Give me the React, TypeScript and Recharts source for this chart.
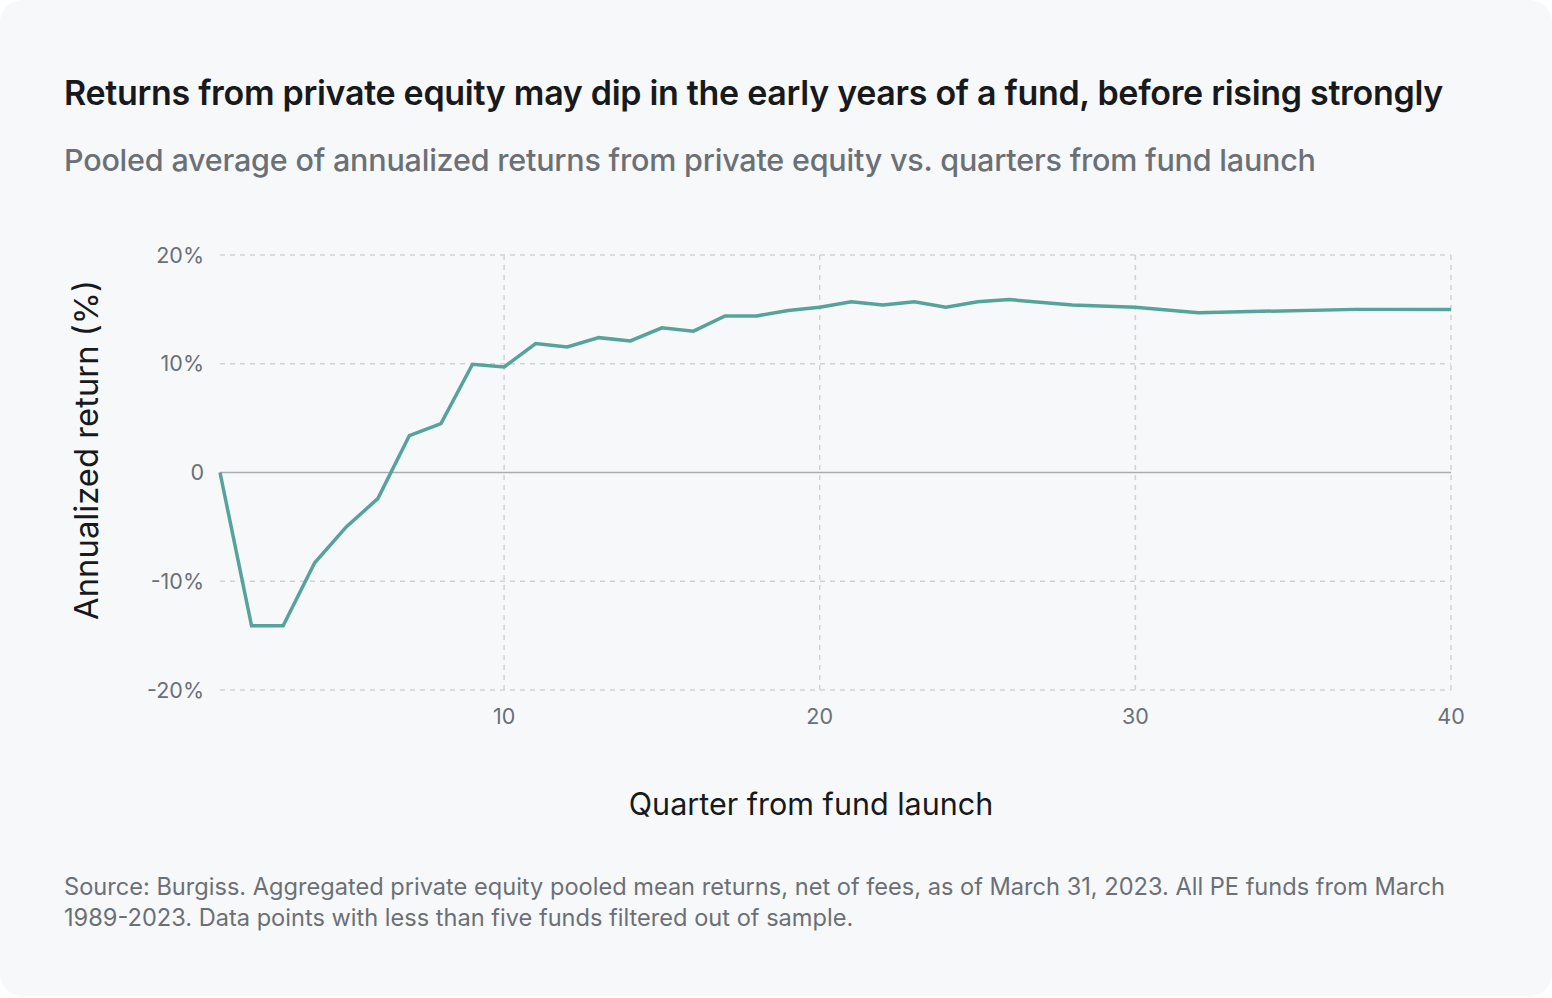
import React from 'react';
import { LineChart, Line, XAxis, YAxis, CartesianGrid, ReferenceLine } from 'recharts';

// quarters from fund launch and pooled annualized return (%)
const quarters = [1, 2, 3, 4, 5, 6, 7, 8, 9, 10, 11, 12, 13, 14, 15, 16, 17, 18, 19, 20, 21, 22, 23, 24, 25, 26, 28, 30, 32, 37, 40];
const returns = [0, -14.1, -14.1, -8.3, -5.0, -2.4, 3.4, 4.5, 9.95, 9.7, 11.85, 11.55, 12.4, 12.1, 13.3, 13.0, 14.4, 14.4, 14.9, 15.2, 15.7, 15.4, 15.7, 15.2, 15.7, 15.9, 15.4, 15.2, 14.7, 15.0, 15.0];

const xTicks = [10, 20, 30, 40];
const yTicks = [-20, -10, 0, 10, 20];

const data = quarters.map((q, i) => ({ quarter: q, value: returns[i] }));

const FONT = 'Inter, "Noto Sans", sans-serif';
const GRAY = '#6b7077';

const fmtY = (v: number) => (v === 0 ? '0' : `${v}%`);

const App = () => {
    return (
        <div style={{ position: 'absolute', left: 0, top: 0, width: 1552, height: 998, background: '#fff', fontFamily: FONT }}>
            <div style={{ position: 'absolute', left: 0, top: 0, width: 1552, height: 996, background: '#f7f8fa', borderRadius: 22 }} />

            <div style={{ position: 'absolute', left: 64, top: 72, fontSize: 34, fontWeight: 600, color: '#17191c', whiteSpace: 'nowrap', letterSpacing: -0.3 }}>
                Returns from private equity may dip in the early years of a fund, before rising strongly
            </div>
            <div style={{ position: 'absolute', left: 64, top: 141, fontSize: 30.5, fontWeight: 500, color: GRAY, whiteSpace: 'nowrap', letterSpacing: -0.2 }}>
                Pooled average of annualized returns from private equity vs. quarters from fund launch
            </div>

            <div style={{ position: 'absolute', left: 0, top: 0 }}>
                <LineChart width={1552} height={998} data={data} margin={{ top: 255, right: 101, left: 0, bottom: 268 }}>
                    <CartesianGrid stroke="#cfd2d7" strokeDasharray="5 5" strokeWidth={1.5} verticalValues={xTicks} horizontalValues={[-20, -10, 10, 20]} />
                    <XAxis
                        dataKey="quarter"
                        type="number"
                        domain={[1, 40]}
                        ticks={xTicks}
                        axisLine={false}
                        tickLine={false}
                        tickSize={0}
                        tickMargin={19}
                        height={40}
                        tick={{ fill: GRAY, fontSize: 21.5, fontFamily: FONT }}
                    />
                    <YAxis
                        type="number"
                        domain={[-20, 20]}
                        ticks={yTicks}
                        tickFormatter={fmtY}
                        axisLine={false}
                        tickLine={false}
                        tickSize={0}
                        tickMargin={16}
                        width={220}
                        tick={{ fill: GRAY, fontSize: 21.5, fontFamily: FONT }}
                    />
                    <ReferenceLine y={0} stroke="#a9adb2" strokeWidth={1.5} />
                    <Line
                        type="linear"
                        dataKey="value"
                        stroke="#55a39a"
                        strokeWidth={3.5}
                        dot={false}
                        activeDot={false}
                        isAnimationActive={false}
                    />
                </LineChart>
            </div>

            <div style={{ position: 'absolute', left: 86, top: 450, transform: 'translate(-50%, -50%) rotate(-90deg)', fontSize: 32.8, color: '#17191c', whiteSpace: 'nowrap' }}>
                Annualized return (%)
            </div>
            <div style={{ position: 'absolute', left: 811, top: 803, transform: 'translate(-50%, -50%)', fontSize: 30.5, color: '#17191c', whiteSpace: 'nowrap' }}>
                Quarter from fund launch
            </div>

            <div style={{ position: 'absolute', left: 64, top: 871, width: 1420, fontSize: 23.6, lineHeight: '31px', color: GRAY }}>
                Source: Burgiss. Aggregated private equity pooled mean returns, net of fees, as of March 31, 2023. All PE funds from March 1989-2023. Data points with less than five funds filtered out of sample.
            </div>
        </div>
    );
};

export default App;
